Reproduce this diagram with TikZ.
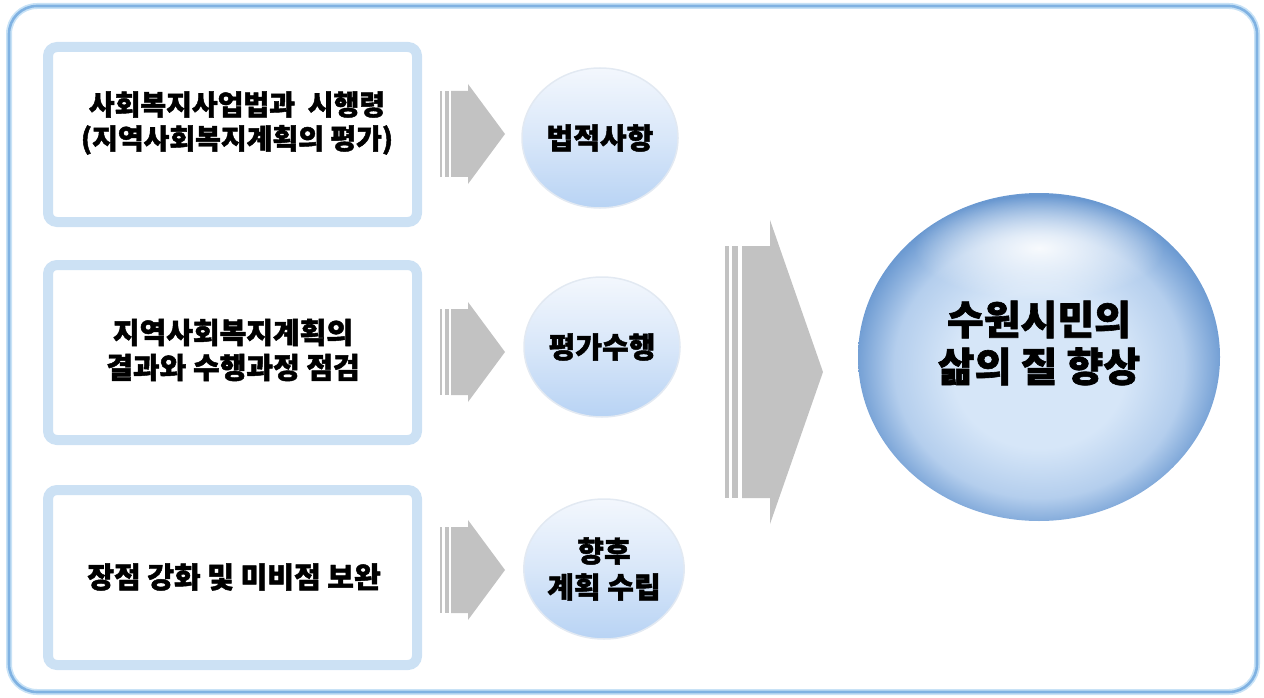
\documentclass[tikz,border=0pt]{standalone}
\usepackage{fontspec}
\setmainfont{Noto Sans CJK KR}[BoldFeatures={FakeBold=1.6}]
\usetikzlibrary{shapes.geometric,fadings}
\definecolor{framein}{RGB}{128,178,226}
\definecolor{frameout}{RGB}{200,226,246}
\definecolor{boxblue}{RGB}{204,225,244}
\definecolor{arrgray}{RGB}{194,194,194}
\definecolor{ssTop}{RGB}{243,247,253}
\definecolor{ssBot}{RGB}{184,211,244}
\definecolor{ssRim}{RGB}{226,233,242}
\definecolor{bs1}{RGB}{214,230,248}
\definecolor{bs2}{RGB}{180,206,237}
\definecolor{bs3}{RGB}{104,151,208}
\definecolor{bs4}{RGB}{150,187,228}
\pgfdeclareradialshading{bigsph}{\pgfpoint{0bp}{-2.5bp}}{color(0bp)=(bs1); color(12bp)=(bs1); color(20bp)=(bs2); color(26bp)=(bs3); color(29bp)=(bs4); color(50bp)=(bs4)}
\tikzfading[name=hlfade, inner color=transparent!10, outer color=transparent!100]
\tikzset{
  boxst/.style={rectangle, rounded corners=9pt, draw=boxblue, line width=10pt, fill=white,
    minimum width=369pt, minimum height=175pt, inner sep=0pt},
  boxtxt/.style={align=center, font=\bfseries\fontsize{29}{35}\selectfont, text=black, inner sep=0pt},
  smallsph/.style={ellipse, minimum width=156pt, minimum height=140pt, draw=ssRim, line width=1.5pt,
    top color=ssTop, bottom color=ssBot, middle color=ssTop!55!ssBot, align=center,
    font=\bfseries\fontsize{29}{36}\selectfont, inner sep=0pt},
  bigsphst/.style={ellipse, minimum width=362pt, minimum height=328pt, shading=bigsph, inner sep=0pt},
  bigtxt/.style={align=center, font=\bfseries\fontsize{40}{47}\selectfont, inner sep=0pt},
  pics/smallarrow/.style={code={
    \fill[arrgray] (0,-43) rectangle (2,43);
    \fill[arrgray] (5,-43) rectangle (9,43);
    \fill[arrgray] (11,-43) -- (28,-43) -- (28,-50) -- (65,0) -- (28,50) -- (28,43) -- (11,43) -- cycle;
  }}
}
\begin{document}
\begin{tikzpicture}[x=1pt,y=-1pt]
\useasboundingbox (0,0) rectangle (1264,698);
% outer frame
\draw[frameout, line width=6pt, rounded corners=28pt] (9,6) rectangle (1257,692);
\draw[framein, line width=2.6pt, rounded corners=28pt] (9,6) rectangle (1257,692);
% left boxes
\node[boxst] (b1) at (232.5,134.5) {};
\node[boxst] (b2) at (232.5,352.5) {};
\node[boxst] (b3) at (232.5,577.5) {};
\node[boxtxt, font=\bfseries\fontsize{28}{34}\selectfont] (t1) at (237,123) {사회복지사업법과\ \ 시행령\\(지역사회복지계획의 평가)};
\node[boxtxt] (t2) at (233,350) {지역사회복지계획의\\결과와 수행과정 점검};
\node[boxtxt] (t3) at (234,577) {장점 강화 및 미비점 보완};
% small arrows
\pic (a1) at (440,134) {smallarrow};
\pic (a2) at (440,352) {smallarrow};
\pic (a3) at (440,570) {smallarrow};
% small spheres
\node[smallsph] (c1) at (600,138) {법적사항};
\node[smallsph] (c2) at (602,347) {평가수행};
\node[smallsph] (c3) at (604,569) {향후\\계획 수립};
% big arrow
\begin{scope}[shift={(725,372)}]
\fill[arrgray] (0,-126) rectangle (4,126);
\fill[arrgray] (7,-126) rectangle (13,126);
\fill[arrgray] (17,-126) -- (45,-126) -- (45,-152) -- (98,0) -- (45,152) -- (45,126) -- (17,126) -- cycle;
\end{scope}
% big sphere
\node[bigsphst] (big) at (1039,357) {};
\fill[white, path fading=hlfade] (1039,248) ellipse [x radius=125, y radius=52];
\node[bigtxt] (bt) at (1039,343) {수원시민의\\삶의 질 향상};
\end{tikzpicture}
\end{document}
